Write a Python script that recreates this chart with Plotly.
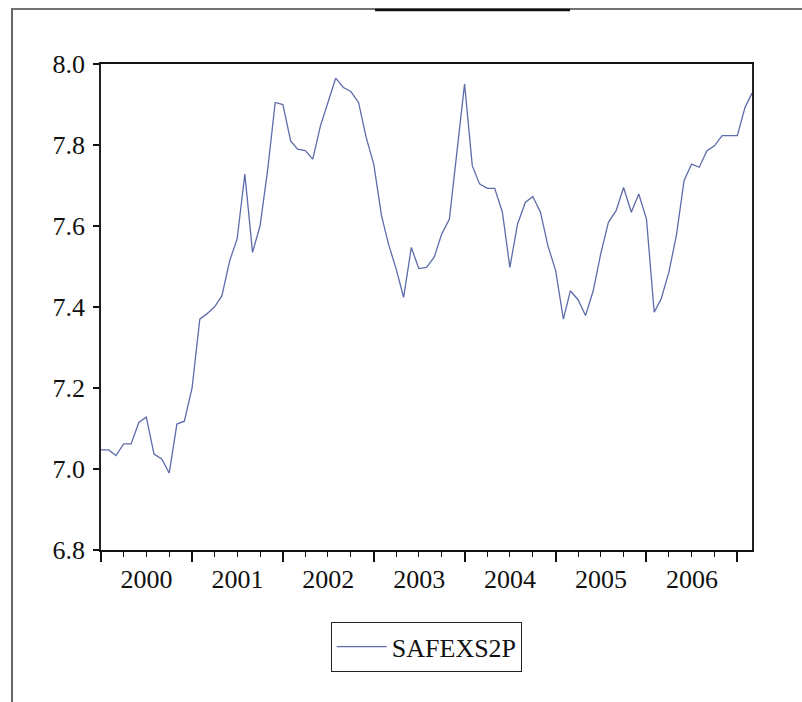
import plotly.graph_objects as go
import pandas as pd

series_name = "SAFEXS2P"
start_month = "2000-01-01"
values = [
    7.047, 7.047, 7.033, 7.062, 7.062, 7.115, 7.128, 7.037, 7.025, 6.990,
    7.111, 7.118, 7.200, 7.370, 7.383, 7.400, 7.428, 7.514, 7.568, 7.728,
    7.535, 7.600, 7.740, 7.905, 7.900, 7.810, 7.790, 7.786, 7.765, 7.848,
    7.905, 7.965, 7.942, 7.932, 7.905, 7.820, 7.753, 7.626, 7.556, 7.494,
    7.424, 7.547, 7.495, 7.498, 7.523, 7.580, 7.617, 7.782, 7.951, 7.749,
    7.704, 7.693, 7.693, 7.634, 7.498, 7.605, 7.658, 7.673, 7.634,
    7.551, 7.490, 7.370, 7.440, 7.418, 7.379, 7.440, 7.531, 7.609, 7.638,
    7.695, 7.634, 7.679, 7.617, 7.387, 7.420, 7.486, 7.576, 7.712, 7.753,
    7.745, 7.786, 7.798, 7.823, 7.823, 7.823, 7.893, 7.928,
]
# monthly, 2000M01 .. 2007M03
dates = pd.date_range(start_month, periods=len(values), freq="MS")

y_ticks = [6.8, 7.0, 7.2, 7.4, 7.6, 7.8, 8.0]
y_range = [6.8, 8.0]

FONT = "Liberation Serif"
L, R, T, B = 101, 50, 64, 152
W, H = 802, 702
pw, ph = W - L - R, H - T - B

fig = go.Figure()
fig.add_trace(go.Scatter(
    x=dates, y=values, mode="lines", name=series_name,
    line=dict(color="#5e6cab", width=1.3),
))

fig.update_layout(
    width=W, height=H,
    margin=dict(l=L, r=R, t=T, b=B, pad=0),
    paper_bgcolor="white", plot_bgcolor="white",
    font=dict(family=FONT, size=26, color="#111"),
    showlegend=True,
    legend=dict(
        x=0.5, xanchor="center", y=-0.148, yanchor="top",
        bordercolor="#222", borderwidth=1.3, bgcolor="white",
        font=dict(family=FONT, size=26, color="#111"),
        itemwidth=50,
    ),
)

fig.update_xaxes(
    type="date",
    range=[dates[0], dates[-1]],
    showgrid=False, zeroline=False,
    showline=True, linecolor="#111", linewidth=2, mirror=True,
    ticks="outside", ticklen=10, tickwidth=1.5, tickcolor="#111",
    tick0="2000-01-01", dtick="M12", tickformat="%Y",
    ticklabelmode="period", ticklabelstandoff=-5,
    minor=dict(ticks="outside", dtick="M3", tick0="2000-01-01",
               ticklen=5, tickwidth=1.3, tickcolor="#111", showgrid=False),
    tickfont=dict(family=FONT, size=26, color="#111"),
)
fig.update_yaxes(
    range=y_range, tickvals=y_ticks, tickformat=".1f",
    showgrid=False, zeroline=False,
    showline=True, linecolor="#222", linewidth=1.5, mirror=True,
    ticks="outside", ticklen=6, tickwidth=1.5, tickcolor="#111",
    ticklabelstandoff=3,
    tickfont=dict(family=FONT, size=26, color="#111"),
)

# outer frame of the scanned page (left and top edges)
def px_to_paper_x(px):
    return (px - L) / pw

def px_to_paper_y(py):
    return (H - B - py) / ph

fig.add_shape(type="line", xref="paper", yref="paper",
              x0=px_to_paper_x(11), x1=px_to_paper_x(W + 5),
              y0=px_to_paper_y(9), y1=px_to_paper_y(9),
              line=dict(color="#444", width=1.5))
fig.add_shape(type="line", xref="paper", yref="paper",
              x0=px_to_paper_x(12), x1=px_to_paper_x(12),
              y0=px_to_paper_y(9), y1=px_to_paper_y(H + 5),
              line=dict(color="#666", width=2))
fig.add_shape(type="line", xref="paper", yref="paper",
              x0=px_to_paper_x(375), x1=px_to_paper_x(570),
              y0=px_to_paper_y(10), y1=px_to_paper_y(10),
              line=dict(color="#111", width=2.5))

fig.write_html("out.html")
